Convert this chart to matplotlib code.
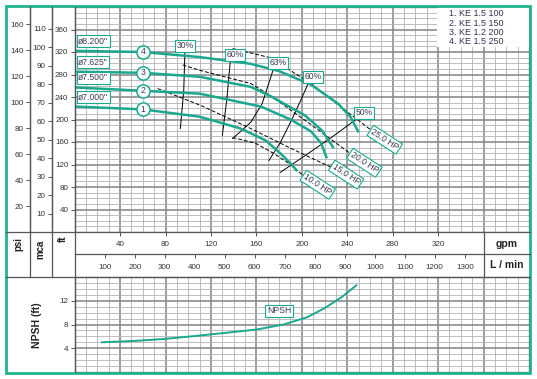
import matplotlib
matplotlib.use("Agg")
import matplotlib.pyplot as plt
from matplotlib.patches import Rectangle
from matplotlib.ticker import MultipleLocator

plt.rcParams["font.family"] = ["Liberation Sans", "DejaVu Sans"]

W, H = 537, 379
GREEN = "#22b38f"
TEAL = "#1aa88e"
INK = "#333333"
GPM_TO_LPM = 3.785

# head curves: flow in gpm, head in ft
q1 = [0, 60, 110, 146, 168, 181, 190, 196]
h1 = [223, 218, 205, 184, 163, 140, 122, 108]
q2 = [0, 60, 110, 164, 190, 208, 217, 222]
h2 = [257, 251, 246, 223, 200, 179, 158, 131]
q3 = [0, 60, 110, 155, 172, 203, 218, 228]
h3 = [285, 283, 276, 258, 242, 207, 180, 149]
q4 = [0, 60, 110, 155, 180, 208, 232, 243, 250]
h4 = [322, 320, 311, 299, 286, 262, 228, 204, 177]
curve_names = ["1", "2", "3", "4"]
diameters = ['ø7.000"', 'ø7.500"', 'ø7.625"', 'ø8.200"']
models = ["1. KE 1.5 100", "2. KE 1.5 150", "3. KE 1.2 200", "4. KE 1.5 250"]

# efficiency lines
eff_names = ["30%", "60%", "63%", "60%", "50%"]
eff_q = [[97, 96, 93], [137, 134, 130], [175, 165, 155, 139],
         [206, 199, 190, 181, 171], [249, 226, 203, 181]]
eff_h = [[319, 251, 184], [304, 237, 172], [290, 228, 195, 166],
         [266, 234, 195, 159, 127], [202, 168, 136, 106]]

# power lines
hp_names = ["10.0 HP", "15.0 HP", "20.0 HP", "25.0 HP"]
hp_q = [[139, 159, 175, 190, 203], [73, 111, 155, 190, 228],
        [95, 111, 155, 172, 208, 245], [139, 172, 208, 234, 261]]
hp_h = [[168, 158, 140, 120, 97], [255, 225, 184, 149, 113],
        [297, 287, 264, 243, 191, 136], [326, 310, 264, 223, 181]]

# NPSH curve
npsh_q = [24, 54, 78, 108, 138, 160, 184, 205, 220, 235, 248]
npsh_ft = [5.0, 5.25, 5.55, 6.1, 6.7, 7.15, 8.0, 9.25, 10.75, 12.6, 14.6]

gpm_ticks = [40, 80, 120, 160, 200, 240, 280, 320]
lpm_ticks = [100, 200, 300, 400, 500, 600, 700, 800, 900, 1000, 1100, 1200, 1300]
ft_ticks = [40, 80, 120, 160, 200, 240, 280, 320, 360]
mca_ticks = [10, 20, 30, 40, 50, 60, 70, 80, 90, 100, 110]
psi_ticks = [20, 40, 60, 80, 100, 120, 140, 160]
npsh_ticks = [4, 8, 12]


def rect(x0, y0, x1, y1):
    return [x0 / W, 1 - y1 / H, (x1 - x0) / W, (y1 - y0) / H]


def style_grid(ax, minor_y):
    ax.xaxis.set_minor_locator(MultipleLocator(10))
    ax.yaxis.set_minor_locator(MultipleLocator(minor_y))
    ax.grid(which="minor", color="#b3b3b3", lw=0.6)
    ax.grid(which="major", color="#8c8c8c", lw=1.2)
    ax.set_axisbelow(True)
    ax.tick_params(axis="x", which="both", length=0, labelbottom=False)
    ax.tick_params(axis="y", which="minor", length=0)
    ax.tick_params(axis="y", which="major", direction="out", length=3, width=0.7,
                   labelsize=5.8, colors="#555555", labelcolor=INK, pad=1.5)
    for s in ax.spines.values():
        s.set_color("#555555")
        s.set_linewidth(0.9)


def label_box(ax, x, y, text, rot=0, ha="center", size=6.2):
    ax.text(x, y, text, ha=ha, va="center", rotation=rot, fontsize=size,
            color="#3a3a55", zorder=8, rotation_mode="anchor",
            bbox=dict(boxstyle="square,pad=0.18", fc="white", ec=TEAL, lw=0.8))


def main():
    fig = plt.figure(figsize=(W / 100, H / 100), dpi=100)
    fig.patch.set_facecolor("white")

    x0, x1 = 74.7, 529

    # main head chart
    ax = fig.add_axes(rect(x0, 7, x1, 232))
    ax.set_xlim(0, 400)
    ax.set_ylim(0, 400)
    ax.set_xticks(range(40, 400, 40))
    ax.set_yticks(ft_ticks)
    style_grid(ax, 10)

    for q, h in zip(hp_q, hp_h):
        ax.plot(q, h, color="black", lw=0.7, ls=(0, (4, 2)), zorder=3)
    for q, h in zip(eff_q, eff_h):
        ax.plot(q, h, color="black", lw=0.7, zorder=3)

    curves = [(q1, h1), (q2, h2), (q3, h3), (q4, h4)]
    for (q, h), name, dia in zip(curves, curve_names, diameters):
        ax.plot(q, h, color=TEAL, lw=1.8, zorder=4, solid_capstyle="butt")
        ax.plot(q[1], h[1], "o", ms=9.5, mfc="white", mec=TEAL, mew=1.1, zorder=6)
        ax.text(q[1], h[1], name, ha="center", va="center", fontsize=6.2,
                color="#3a3a55", zorder=7)
        label_box(ax, 3, h[0] + 17, dia, ha="left")

    eff_pos = [(97, 331), (141, 315), (179, 301), (210, 276), (255, 212)]
    for (x, y), name in zip(eff_pos, eff_names):
        label_box(ax, x, y, name)

    hp_pos = [(214, 84), (239, 102), (255, 123), (273, 164)]
    for (x, y), name in zip(hp_pos, hp_names):
        label_box(ax, x, y, name, rot=-33, ha="center")

    # secondary head scales
    sec_m = ax.secondary_yaxis(-(x0 - 52) / (x1 - x0),
                               functions=(lambda f: f * 0.3048, lambda m: m / 0.3048))
    sec_m.set_yticks(mca_ticks)
    sec_p = ax.secondary_yaxis(-(x0 - 29.6) / (x1 - x0),
                               functions=(lambda f: f * 0.4335, lambda p: p / 0.4335))
    sec_p.set_yticks(psi_ticks)
    for sec in (sec_m, sec_p):
        sec.tick_params(direction="out", length=3, width=0.7, labelsize=5.8,
                        colors="#555555", labelcolor=INK, pad=1.5)
        sec.spines["left"].set_color("#555555")
        sec.spines["left"].set_linewidth(0.9)

    # flow scale rows
    ax_g = fig.add_axes(rect(x0, 232, x1, 254))
    ax_g.set_xlim(0, 400)
    ax_g.set_ylim(0, 1)
    ax_l = fig.add_axes(rect(x0, 254, x1, 277))
    ax_l.set_xlim(0, 400 * GPM_TO_LPM)
    ax_l.set_ylim(0, 1)
    for a, ticks in ((ax_g, gpm_ticks), (ax_l, lpm_ticks)):
        a.set_xticks(ticks)
        a.set_yticks([])
        a.tick_params(axis="x", top=True, bottom=False, labelbottom=False,
                      direction="in", length=3, width=0.7, colors="#555555")
        for s in a.spines.values():
            s.set_visible(False)
        for t in ticks:
            a.text(t, 0.42, str(t), ha="center", va="center", fontsize=5.8, color=INK)
    ax_g.axvline(360, color="#555555", lw=0.9)
    ax_l.axvline(360 * GPM_TO_LPM, color="#555555", lw=0.9)
    ax_g.text(380, 0.45, "gpm", ha="center", va="center", fontsize=7.5,
              fontweight="bold", color="#222222")
    ax_l.text(380 * GPM_TO_LPM, 0.5, "L / min", ha="center", va="center",
              fontsize=7.5, fontweight="bold", color="#222222")

    # NPSH chart
    ax_n = fig.add_axes(rect(x0, 277, x1, 372))
    ax_n.set_xlim(0, 400)
    ax_n.set_ylim(0, 16)
    ax_n.set_xticks(range(40, 400, 40))
    ax_n.set_yticks(npsh_ticks)
    style_grid(ax_n, 1)
    ax_n.plot(npsh_q, npsh_ft, color=TEAL, lw=1.4, zorder=4)
    label_box(ax_n, 180, 10.3, "NPSH")

    # frame, dividers and side labels
    ov = fig.add_axes([0, 0, 1, 1], zorder=20)
    ov.set_xlim(0, W)
    ov.set_ylim(H, 0)
    ov.axis("off")
    ov.add_patch(Rectangle((437, 7), x1 - 437, 40, fc="white", ec="none"))
    for i, m in enumerate(models):
        ov.text(449, 13.5 + i * 9.5, m, ha="left", va="center", fontsize=6.5,
                color="#2f3550")
    line = dict(color="#555555", lw=0.9)
    ov.plot([6, 530], [232, 232], **line)
    ov.plot([6, 530], [277, 277], **line)
    ov.plot([29.6, 29.6], [7, 277], **line)
    ov.plot([52, 52], [7, 277], **line)
    ov.plot([x0, x0], [7, 372], **line)
    ov.plot([x0, 530], [254, 254], **line)
    ov.text(18, 244, "psi", rotation=90, ha="center", va="center", fontsize=7,
            fontweight="bold", color="#222222")
    ov.text(40, 249, "mca", rotation=90, ha="center", va="center", fontsize=7,
            fontweight="bold", color="#222222")
    ov.text(63, 239, "ft", rotation=90, ha="center", va="center", fontsize=7,
            fontweight="bold", color="#222222")
    ov.text(37, 325, "NPSH (ft)", rotation=90, ha="center", va="center",
            fontsize=7.5, fontweight="bold", color="#222222")
    ov.add_patch(Rectangle((6, 6), 524, 367, fill=False, ec=GREEN, lw=2))

    fig.savefig("out.png", dpi=100)


if __name__ == "__main__":
    main()
